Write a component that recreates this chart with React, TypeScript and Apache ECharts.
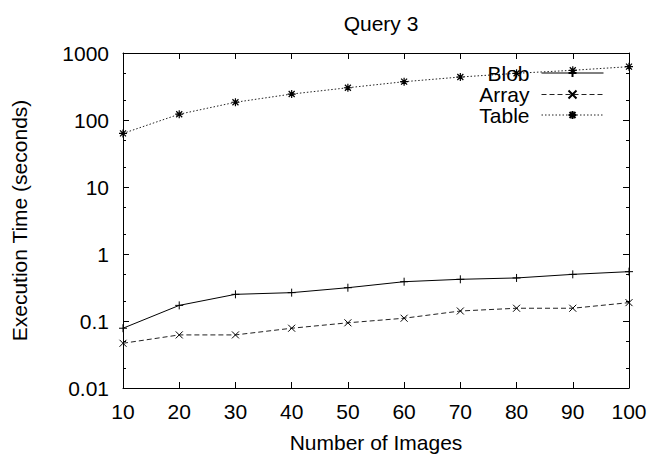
import React, { useEffect, useRef } from "react";
import * as echarts from "echarts";

const xValues = [10, 20, 30, 40, 50, 60, 70, 80, 90, 100];
const blobValues = [0.078, 0.171, 0.25, 0.265, 0.314, 0.386, 0.419, 0.439, 0.497, 0.545];
const arrayValues = [0.0465, 0.062, 0.062, 0.078, 0.094, 0.11, 0.141, 0.155, 0.155, 0.188];
const tableValues = [63, 122, 184, 244, 303, 373, 438, 498, 552, 625];
const seriesNames = ["Blob", "Array", "Table"];
const minorTickValues = [0.02, 0.05, 0.2, 0.5, 2, 5, 20, 50, 200, 500];

const FONT = "Liberation Sans, Arial, Helvetica, sans-serif";

const plusSym = "path://M0,4L8,4M4,0L4,8";
const crossSym = "path://M0,0L8,8M0,8L8,0";
const starSym = "path://M0,4L8,4M4,0L4,8M1,1L7,7M1,7L7,1";

export default function App() {
  const ref = useRef<HTMLDivElement>(null);
  useEffect(() => {
    if (!ref.current) return;
    const chart = echarts.init(ref.current, null, { renderer: "svg" });
    const fmt = (v: number) => String(parseFloat(Number(v).toPrecision(6)));
    const mk = (vals: number[]) => xValues.map((x, i) => [x, vals[i]]);
    const legendTops = [62.5, 84, 104.5];
    const yCommon = {
      type: "log" as const,
      logBase: 10,
      min: 0.01,
      max: 1000,
      splitLine: { show: false },
    };
    chart.setOption({
      animation: false,
      backgroundColor: "#fff",
      title: {
        text: "Query 3",
        left: 376,
        textAlign: "center",
        top: 8,
        textStyle: { fontFamily: FONT, fontSize: 21, fontWeight: "normal", color: "#000" },
      },
      legend: seriesNames.map((name, i) => ({
        data: [name],
        orient: "horizontal",
        align: "right",
        right: 48,
        top: legendTops[i],
        padding: 0,
        itemWidth: 62,
        itemHeight: 10,
        selectedMode: false,
        lineStyle: { width: 1 },
        textStyle: {
          fontFamily: FONT,
          fontSize: 21,
          color: "#000",
          lineHeight: 17,
          padding: [0, 7, 0, 0],
        },
      })),
      grid: { left: 123, right: 23, top: 53, bottom: 70 },
      xAxis: [
        {
          type: "value",
          min: 10,
          max: 100,
          interval: 10,
          position: "bottom",
          name: "Number of Images",
          nameLocation: "middle",
          nameGap: 44,
          nameTextStyle: { fontFamily: FONT, fontSize: 21, color: "#000" },
          axisLine: { lineStyle: { color: "#000", width: 1 } },
          axisTick: { inside: true, length: 6, lineStyle: { color: "#000" } },
          axisLabel: { fontFamily: FONT, fontSize: 21, color: "#000", margin: 13 },
          splitLine: { show: false },
        },
        {
          type: "value",
          min: 10,
          max: 100,
          interval: 10,
          position: "top",
          axisLine: { lineStyle: { color: "#000", width: 1 } },
          axisTick: { inside: true, length: 6, lineStyle: { color: "#000" } },
          axisLabel: { show: false },
          splitLine: { show: false },
        },
      ],
      yAxis: [
        {
          ...yCommon,
          position: "left",
          name: "Execution Time (seconds)",
          nameLocation: "middle",
          nameGap: 93,
          nameTextStyle: { fontFamily: FONT, fontSize: 21, color: "#000" },
          axisLine: { show: true, lineStyle: { color: "#000", width: 1 } },
          axisTick: { show: true, inside: true, length: 6, lineStyle: { color: "#000" } },
          axisLabel: { fontFamily: FONT, fontSize: 21, color: "#000", margin: 14, formatter: fmt },
        },
        {
          ...yCommon,
          position: "right",
          axisLine: { show: true, lineStyle: { color: "#000", width: 1 } },
          axisTick: { show: true, inside: true, length: 6, lineStyle: { color: "#000" } },
          axisLabel: { show: false },
        },
        {
          ...yCommon,
          position: "left",
          axisLine: { show: false },
          axisTick: {
            show: true,
            inside: true,
            length: 3,
            customValues: minorTickValues,
            lineStyle: { color: "#000" },
          },
          axisLabel: { show: false },
        },
        {
          ...yCommon,
          position: "right",
          axisLine: { show: false },
          axisTick: {
            show: true,
            inside: true,
            length: 3,
            customValues: minorTickValues,
            lineStyle: { color: "#000" },
          },
          axisLabel: { show: false },
        },
      ],
      series: [
        {
          name: "Blob",
          type: "line",
          data: mk(blobValues),
          symbol: plusSym,
          symbolSize: 8,
          lineStyle: { color: "#000", width: 1, type: "solid" },
          itemStyle: { color: "rgba(0,0,0,0)", borderColor: "#000", borderWidth: 1 },
        },
        {
          name: "Array",
          type: "line",
          data: mk(arrayValues),
          symbol: crossSym,
          symbolSize: 7,
          lineStyle: { color: "#222", width: 1, type: [5, 3] },
          itemStyle: { color: "rgba(0,0,0,0)", borderColor: "#000", borderWidth: 1 },
        },
        {
          name: "Table",
          type: "line",
          data: mk(tableValues),
          symbol: starSym,
          symbolSize: 8,
          lineStyle: { color: "#222", width: 1, type: [1.5, 2] },
          itemStyle: { color: "rgba(0,0,0,0)", borderColor: "#000", borderWidth: 1.2 },
        },
      ],
    });
    return () => chart.dispose();
  }, []);
  return (
    <div
      ref={ref}
      style={{ position: "absolute", left: 0, top: 0, width: 652, height: 458 }}
    />
  );
}
